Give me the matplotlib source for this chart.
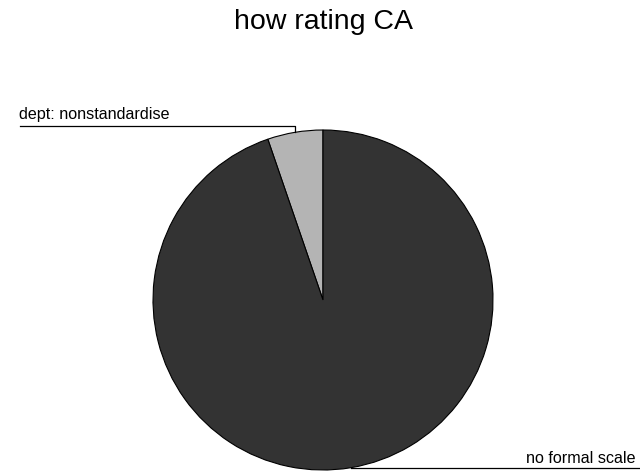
import numpy as np
import matplotlib
matplotlib.use("Agg")
import matplotlib.pyplot as plt

plt.rcParams['font.family'] = ['Liberation Sans', 'DejaVu Sans']

title = "how rating CA"
labels = ["dept: nonstandardise", "no formal scale"]
counts = [1, 18]
colors = ['#b4b4b4', '#333333']

fig = plt.figure(figsize=(6.4, 4.71), dpi=100)
ax = fig.add_axes([0, 0, 1, 1])

cx, cy, r = 323, 171, 170
wedges, _ = ax.pie(counts, startangle=90, counterclock=True, colors=colors,
                   center=(cx, cy), radius=r,
                   wedgeprops=dict(edgecolor='black', linewidth=0.8))
ax.set_xlim(0, 640)
ax.set_ylim(0, 471)
ax.set_aspect('equal')
ax.axis('off')

# leader lines from the middle of each slice
for w, lab in zip(wedges, labels):
    mid = np.deg2rad((w.theta1 + w.theta2) / 2)
    px, py = cx + r * np.cos(mid), cy + r * np.sin(mid)
    if py > cy:
        ly = py + 6
        ax.plot([px, px, 20], [py, ly, ly], color='black', lw=0.9, clip_on=False)
        ax.text(19, ly + 7, lab, ha='left', va='baseline', fontsize=11.6)
    else:
        ly = py
        ax.plot([px, 640], [ly, ly], color='black', lw=0.9, clip_on=False)
        ax.text(636, ly + 5, lab, ha='right', va='baseline', fontsize=11.6)

ax.text(323, 442, title, ha='center', va='baseline', fontsize=20.5)

fig.savefig("out.png", dpi=100)
